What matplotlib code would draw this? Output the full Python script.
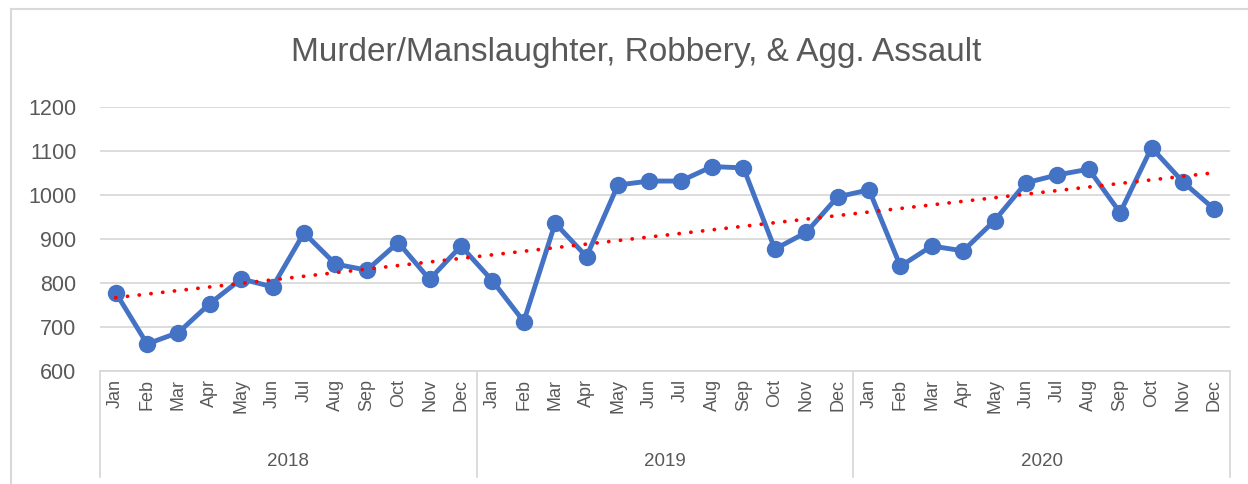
import numpy as np
import matplotlib
matplotlib.use("Agg")
import matplotlib.pyplot as plt
from matplotlib.lines import Line2D
import matplotlib.transforms as mtransforms

# monthly counts, 2018-2020
years = ["2018", "2019", "2020"]
months = ["Jan", "Feb", "Mar", "Apr", "May", "Jun",
          "Jul", "Aug", "Sep", "Oct", "Nov", "Dec"]
counts_2018 = [778, 661, 687, 753, 809, 791, 914, 843, 829, 892, 808, 884]
counts_2019 = [805, 712, 936, 860, 1023, 1032, 1032, 1065, 1062, 877, 915, 996]
counts_2020 = [1012, 838, 884, 873, 942, 1028, 1046, 1059, 960, 1108, 1030, 968]

counts = counts_2018 + counts_2019 + counts_2020
x = np.arange(len(counts))

# linear trendline like Excel's
slope, intercept = np.polyfit(x, counts, 1)
trend = slope * x + intercept

plt.rcParams['font.family'] = ['Liberation Sans', 'DejaVu Sans']
text_col = "#595959"
grid_col = "#D9D9D9"

fig = plt.figure(figsize=(12.48, 4.84), dpi=100)
ax = fig.add_axes([100 / 1248, 1 - 370.7 / 484, 1130 / 1248, 263.4 / 484])

ax.plot(x, counts, color="#4472C4", linewidth=3.5, marker="o",
        markersize=11.5, zorder=3)
ax.plot(x, trend, color="#FF0000", linewidth=2.7, linestyle=(0, (0.05, 3.1)),
        dash_capstyle="round", zorder=4)

ax.set_xlim(-0.5, len(counts) - 0.5)
ax.set_ylim(600, 1200)
ax.set_yticks(range(600, 1201, 100))
ax.yaxis.grid(True, color=grid_col, linewidth=1.3)
ax.set_axisbelow(True)
for s in ["top", "right", "left"]:
    ax.spines[s].set_visible(False)
ax.spines["bottom"].set_color(grid_col)
ax.spines["bottom"].set_linewidth(1.3)
ax.tick_params(axis="y", length=0, labelsize=15.5, colors=text_col, pad=17)

ax.set_xticks(x)
ax.set_xticklabels(months * len(years), rotation=90, fontsize=13,
                   color=text_col)
ax.tick_params(axis="x", length=0, pad=6)

# year groups under the month labels
trans = mtransforms.blended_transform_factory(ax.transData, fig.transFigure)
y_top = 1 - 370.7 / 484
y_bot = 1 - 477 / 484
for i in range(len(years) + 1):
    xs = i * 12 - 0.5
    ax.add_line(Line2D([xs, xs], [y_top, y_bot], transform=trans,
                       color=grid_col, linewidth=1.3, clip_on=False))
for i, yr in enumerate(years):
    fig.text(i * 12 + 5.5, 1 - 461 / 484, yr, transform=trans, ha="center",
             va="center", fontsize=13.5, color=text_col)

fig.text(0.5 * (280 + 993) / 1248, 1 - 52 / 484,
         "Murder/Manslaughter, Robbery, & Agg. Assault",
         ha="center", va="center", fontsize=24, color=text_col)

# chart area border (left and top edges visible in the crop)
fig.add_artist(Line2D([11 / 1248, 11 / 1248], [0, 1 - 9 / 484],
                      transform=fig.transFigure, color=grid_col, linewidth=1.5))
fig.add_artist(Line2D([11 / 1248, 1], [1 - 9 / 484, 1 - 9 / 484],
                      transform=fig.transFigure, color=grid_col, linewidth=1.5))

fig.savefig("out.png", dpi=100, facecolor="white")
